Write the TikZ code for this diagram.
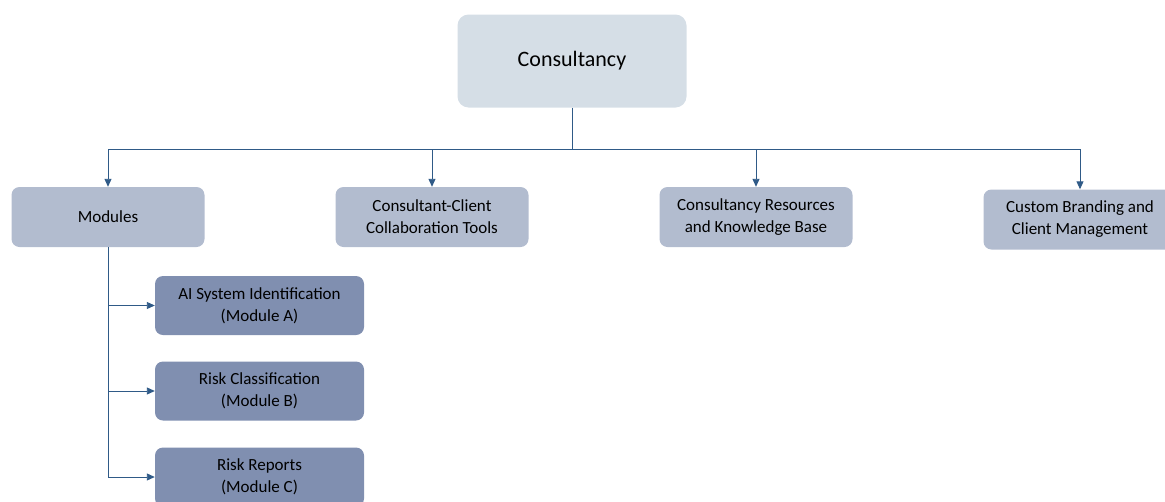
\documentclass[tikz,border=0pt]{standalone}
\usepackage{fontspec}
\setmainfont{Carlito}
\usetikzlibrary{arrows.meta, positioning}

\definecolor{topfill}{HTML}{D5DEE6}
\definecolor{midfill}{HTML}{B2BCCF}
\definecolor{modfill}{HTML}{808FB0}
\definecolor{linkcol}{HTML}{2F5A87}

\begin{document}
\begin{tikzpicture}[x=1pt, y=1pt, node distance={324pt}, on grid,
	top/.style = {fill=topfill, rounded corners=11pt, minimum width=229pt, minimum height=93pt, font=\fontsize{22}{26}\selectfont},
	main/.style = {fill=midfill, rounded corners=8pt, minimum width=193pt, minimum height=60pt, align=center, font=\fontsize{17}{22}\selectfont},
	sub/.style = {fill=modfill, rounded corners=8pt, minimum width=209pt, minimum height=59pt, align=center, font=\fontsize{17}{22}\selectfont},
	link/.style = {draw=linkcol, line width=0.9pt},
	arr/.style = {link, -{Triangle[length=8pt, width=7pt]}}]
	\useasboundingbox (0,0) rectangle (1165,-501);
	\node[top] (1) at (572,-61) {Consultancy};
	\node[main] (2) at (108,-217) {Modules};
	\node[main] (3) [right=of 2] {Consultant-Client\\Collaboration Tools};
	\node[main] (4) [right=of 3] {Consultancy Resources\\and Knowledge Base};
	\node[main] (5) at (1080,-219.5) {Custom Branding and\\Client Management};
	\node[sub] (6) [below right=88.5pt and 151.5pt of 2] {AI System Identification\\(Module A)};
	\node[sub] (7) [below=85.5pt of 6] {Risk Classification\\(Module B)};
	\node[sub] (8) [below=86pt of 7] {Risk Reports\\(Module C)};
	\coordinate (bus) at (572,-149);
	\draw[link] (1) -- (bus);
	\draw[arr] (bus) -| (2);
	\draw[arr] (bus) -| (3);
	\draw[arr] (bus) -| (4);
	\draw[arr] (bus) -| (5);
	\draw[arr] (2.south) |- (6);
	\draw[arr] (2.south) |- (7);
	\draw[arr] (2.south) |- (8);
\end{tikzpicture}
\end{document}
